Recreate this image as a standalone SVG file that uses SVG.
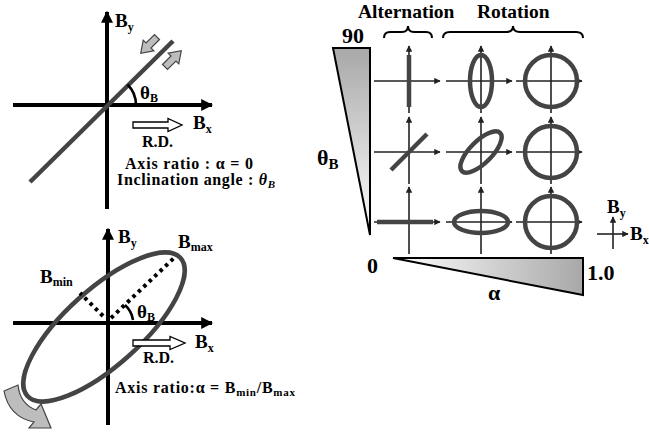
<svg xmlns="http://www.w3.org/2000/svg" width="649" height="432" viewBox="0 0 649 432">
<style>
text{font-family:"Liberation Serif","Times New Roman",Times,serif;font-weight:bold;fill:#000}
.lbl{font-size:19px}
.hdr{font-size:19.5px}
.sub{font-size:12px}
.big{font-size:22px}
.note{font-size:16px}
.axis{stroke:#000;stroke-width:4;fill:none}
.curve{stroke:#444;stroke-width:4.5;fill:none}
.thin{stroke:#222;stroke-width:1.6;fill:none}
.dot{stroke:#000;stroke-width:4;stroke-dasharray:3.5 4;fill:none}
.hollow{fill:#fff;stroke:#000;stroke-width:1.3}
.gray{fill:#bdbdbd;stroke:#444;stroke-width:1.2}
.arc{stroke:#000;stroke-width:2.6;fill:none}
.brace{stroke:#000;stroke-width:2;fill:none}
</style>
<defs>
<marker id="ah" viewBox="0 0 10 10" refX="9" refY="5" markerWidth="3" markerHeight="3" orient="auto" markerUnits="strokeWidth"><path d="M0,0 L10,5 L0,10 Z" fill="#000"/></marker>
<marker id="as" viewBox="0 0 10 10" refX="9" refY="5" markerWidth="4" markerHeight="4" orient="auto" markerUnits="strokeWidth"><path d="M0,0 L10,5 L0,10 Z" fill="#222"/></marker>
<linearGradient id="gv" x1="0" y1="0" x2="0" y2="1"><stop offset="0" stop-color="#a8a8a8"/><stop offset="1" stop-color="#ffffff"/></linearGradient>
<linearGradient id="gh" x1="0" y1="0" x2="1" y2="0"><stop offset="0" stop-color="#ffffff"/><stop offset="1" stop-color="#a8a8a8"/></linearGradient>
<path id="blk" d="M0,-3.5 L12,-3.5 L12,-7.5 L23,0 L12,7.5 L12,3.5 L0,3.5 Z"/>
</defs>

<!-- Top-left: linear (alternating) field -->
<g id="top-left">
  <line class="axis" x1="107" y1="209" x2="107" y2="12" marker-end="url(#ah)"/>
  <line class="axis" x1="13" y1="105" x2="212" y2="105" marker-end="url(#ah)"/>
  <line class="curve" x1="30" y1="182" x2="173" y2="41"/>
  <use href="#blk" class="gray" transform="translate(157,37) rotate(135)"/>
  <use href="#blk" class="gray" transform="translate(165,67) rotate(-45)"/>
  <path class="arc" d="M136,105 A29,29 0 0 0 127.5,84.5"/>
  <text class="lbl" x="140" y="99">θ<tspan class="sub" dy="3">B</tspan></text>
  <text class="lbl" x="115" y="27">B<tspan class="sub" dy="4">y</tspan></text>
  <text class="lbl" x="193" y="129">B<tspan class="sub" dy="4">x</tspan></text>
  <path class="hollow" d="M133,122 L168,122 L168,118.5 L182,125 L168,131.5 L168,128 L133,128 Z"/>
  <text class="note" x="142" y="147">R.D.</text>
  <text class="note" x="125" y="169" textLength="128" lengthAdjust="spacing">Axis ratio : α = 0</text>
  <text class="note" x="117" y="185" textLength="158" lengthAdjust="spacing">Inclination angle : <tspan font-style="italic">θ</tspan><tspan font-style="italic" font-size="11px" dy="3">B</tspan></text>
</g>

<!-- Bottom-left: elliptical (rotating) field -->
<g id="bottom-left">
  <line class="axis" x1="108" y1="425" x2="108" y2="229" marker-end="url(#ah)"/>
  <line class="axis" x1="13" y1="323" x2="212" y2="323" marker-end="url(#ah)"/>
  <ellipse class="curve" cx="104" cy="327" rx="103" ry="38" transform="rotate(-42 104 327)"/>
  <line class="dot" x1="111" y1="318" x2="175" y2="257"/>
  <line class="dot" x1="103" y1="316" x2="80" y2="293"/>
  <path class="arc" d="M133,320 A25,25 0 0 0 125,305"/>
  <text class="lbl" x="137" y="318">θ<tspan class="sub" dy="3">B</tspan></text>
  <text class="lbl" x="118" y="243">B<tspan class="sub" dy="4">y</tspan></text>
  <text class="lbl" x="178" y="248">B<tspan class="sub" dy="3">max</tspan></text>
  <text class="lbl" x="40" y="283">B<tspan class="sub" dy="3">min</tspan></text>
  <text class="lbl" x="195" y="348">B<tspan class="sub" dy="4">x</tspan></text>
  <path class="hollow" d="M133,340 L170,340 L170,336.5 L185,343 L170,349.5 L170,346 L133,346 Z"/>
  <text class="note" x="143" y="363">R.D.</text>
  <text class="note" x="115" y="393" textLength="180" lengthAdjust="spacing">Axis ratio:α = B<tspan font-size="11px" dy="3">min</tspan><tspan dy="-3">/B</tspan><tspan font-size="11px" dy="3">max</tspan></text>
  <path class="gray" d="M4,391 L18,385 Q20,404 36,410 L41,404 L51,428 L29,428 L34,422 Q9,417 4,391 Z"/>
</g>

<!-- Right: scales -->
<g id="theta-scale">
  <path d="M333,48 L370,48 L370,235 Z" fill="url(#gv)" stroke="#000" stroke-width="2"/>
  <text class="big" x="342" y="43">90</text>
  <text class="big" x="317" y="165">θ<tspan font-size="15px" dy="4">B</tspan></text>
  <text class="big" x="367" y="273">0</text>
</g>
<g id="alpha-scale">
  <path d="M393,258 L583,258 L583,295 Z" fill="url(#gh)" stroke="#000" stroke-width="2"/>
  <text class="big" x="587" y="280">1.0</text>
  <text class="big" x="488" y="300">α</text>
</g>
<g id="headers">
  <text class="hdr" x="358" y="18">Alternation</text>
  <text class="hdr" x="477" y="18">Rotation</text>
  <path class="brace" d="M384,38 Q384,32 390,32 L402,32 Q408,32 408,26 Q408,32 414,32 L426,32 Q432,32 432,38"/>
  <path class="brace" d="M443,38 Q443,32 450,32 L506,32 Q513,32 513,26 Q513,32 520,32 L576,32 Q583,32 583,38"/>
</g>

<!-- Grid cells -->
<g id="connectors">
  <g id="axes-r1">
    <line class="thin" x1="374" y1="81" x2="440" y2="81" marker-end="url(#as)"/>
    <line class="thin" x1="409" y1="113" x2="409" y2="46" marker-end="url(#as)"/>
    <line class="thin" x1="446" y1="81" x2="512" y2="81" marker-end="url(#as)"/>
    <line class="thin" x1="481" y1="113" x2="481" y2="46" marker-end="url(#as)"/>
    <line class="thin" x1="516" y1="81" x2="582" y2="81" marker-end="url(#as)"/>
    <line class="thin" x1="551" y1="113" x2="551" y2="46" marker-end="url(#as)"/>
  </g>
  <g id="axes-r2">
    <line class="thin" x1="374" y1="152" x2="440" y2="152" marker-end="url(#as)"/>
    <line class="thin" x1="409" y1="184" x2="409" y2="117" marker-end="url(#as)"/>
    <line class="thin" x1="446" y1="152" x2="512" y2="152" marker-end="url(#as)"/>
    <line class="thin" x1="481" y1="184" x2="481" y2="117" marker-end="url(#as)"/>
    <line class="thin" x1="516" y1="152" x2="582" y2="152" marker-end="url(#as)"/>
    <line class="thin" x1="551" y1="184" x2="551" y2="117" marker-end="url(#as)"/>
  </g>
  <g id="axes-r3">
    <line class="thin" x1="374" y1="222" x2="440" y2="222" marker-end="url(#as)"/>
    <line class="thin" x1="409" y1="254" x2="409" y2="187" marker-end="url(#as)"/>
    <line class="thin" x1="446" y1="222" x2="512" y2="222" marker-end="url(#as)"/>
    <line class="thin" x1="481" y1="254" x2="481" y2="187" marker-end="url(#as)"/>
    <line class="thin" x1="516" y1="222" x2="582" y2="222" marker-end="url(#as)"/>
    <line class="thin" x1="551" y1="254" x2="551" y2="187" marker-end="url(#as)"/>
  </g>
  <g id="legend-axes">
    <line class="thin" x1="597" y1="234" x2="628" y2="234" marker-end="url(#as)"/>
    <line class="thin" x1="613" y1="249" x2="613" y2="217" marker-end="url(#as)"/>
  </g>
</g>

<g id="cell-r1c1"><line class="curve" x1="409" y1="55" x2="409" y2="107"/></g>
<g id="cell-r1c2"><ellipse class="curve" cx="481" cy="81" rx="11" ry="26"/></g>
<g id="cell-r1c3"><circle class="curve" cx="551" cy="81" r="26"/></g>
<g id="cell-r2c1"><line class="curve" x1="391" y1="170" x2="427" y2="134"/></g>
<g id="cell-r2c2"><ellipse class="curve" cx="481" cy="152" rx="27" ry="11" transform="rotate(-45 481 152)"/></g>
<g id="cell-r2c3"><circle class="curve" cx="551" cy="152" r="26"/></g>
<g id="cell-r3c1"><line class="curve" x1="377" y1="222" x2="433" y2="222"/></g>
<g id="cell-r3c2"><ellipse class="curve" cx="481" cy="222" rx="27" ry="11"/></g>
<g id="cell-r3c3"><circle class="curve" cx="551" cy="222" r="26"/></g>

<g id="legend">
  <text class="lbl" x="607" y="213" font-size="17px">B<tspan class="sub" dy="4">y</tspan></text>
  <text class="lbl" x="630" y="240" font-size="17px">B<tspan class="sub" dy="4">x</tspan></text>
</g>
</svg>
